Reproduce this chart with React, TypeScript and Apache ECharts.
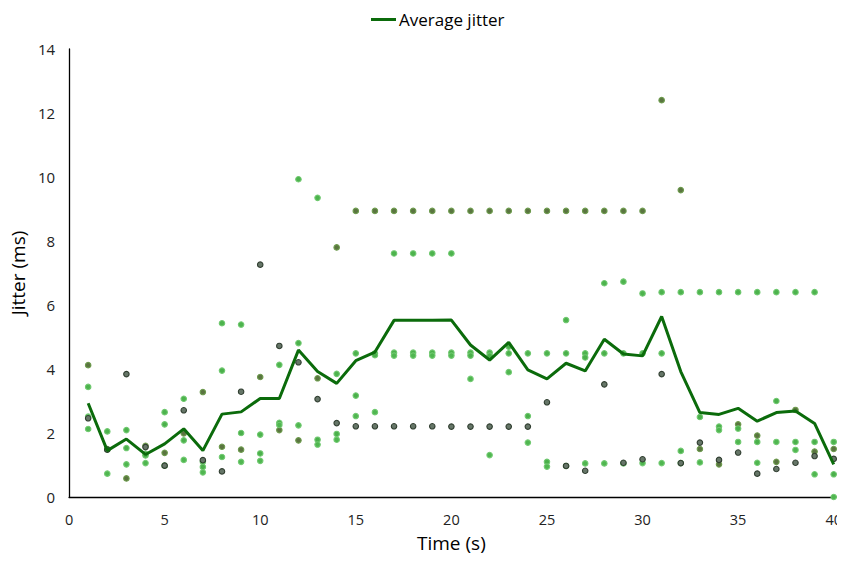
import React, { useEffect, useRef } from "react";
import * as echarts from "echarts";

// Time steps (s)
const times: number[] = Array.from({ length: 40 }, (_, i) => i + 1);

// Average jitter across all flows (ms)
const averageJitter: number[] = [
  2.93, 1.45, 1.81, 1.33, 1.66, 2.13, 1.45, 2.59, 2.66, 3.08,
  3.08, 4.59, 3.92, 3.55, 4.26, 4.53, 5.52, 5.52, 5.52, 5.53,
  4.75, 4.28, 4.83, 3.97, 3.69, 4.18, 3.94, 4.93, 4.47, 4.41,
  5.64, 3.92, 2.64, 2.58, 2.77, 2.37, 2.64, 2.69, 2.30, 1.02,
];

// Per-flow jitter (ms), one value per time step
const flowOlive: number[] = [
  4.12, 1.5, 0.58, 1.6, 1.38, 1.99, 3.28, 1.57, 1.48, 3.75,
  2.09, 1.77, 3.71, 7.8, 8.94, 8.94, 8.94, 8.94, 8.94, 8.94,
  8.94, 8.94, 8.94, 8.94, 8.94, 8.94, 8.94, 8.94, 8.94, 8.94,
  12.4, 9.59, 1.5, 1.02, 2.27, 1.92, 1.1, 2.72, 1.42, 1.5,
];

const flowDark: number[] = [
  2.46, 1.48, 3.84, 1.56, 0.98, 2.71, 1.15, 0.8, 3.29, 7.26,
  4.72, 4.21, 3.06, 2.31, 2.21, 2.21, 2.21, 2.21, 2.21, 2.2,
  2.2, 2.2, 2.2, 2.2, 2.96, 0.97, 0.82, 3.52, 1.07, 1.18,
  3.84, 1.06, 1.7, 1.16, 1.39, 0.73, 0.875, 1.07, 1.28, 1.19,
];

const flowLightA: number[] = [
  3.44, 2.05, 2.09, 1.35, 2.65, 3.07, 1.1, 5.43, 5.39, 1.95,
  4.13, 9.93, 9.35, 3.85, 4.49, 4.49, 7.61, 7.61, 7.61, 7.61,
  4.51, 4.51, 4.7, 4.49, 4.49, 5.53, 4.49, 6.68, 6.73, 6.36,
  6.4, 6.4, 6.4, 6.4, 6.4, 6.4, 6.4, 6.4, 6.4, 1.72,
];

const flowLightB: number[] = [
  2.51, 1.49, 1.53, 1.3, 2.27, 1.77, 0.94, 3.95, 2.0, 1.36,
  2.32, 4.81, 1.79, 1.97, 3.17, 4.43, 4.51, 4.51, 4.51, 4.51,
  4.42, 4.42, 4.49, 2.53, 1.1, 4.49, 4.36, 4.49, 4.49, 4.49,
  4.49, 1.44, 2.5, 2.2, 2.14, 1.72, 3.0, 1.72, 1.72, 0.71,
];

const flowLightC: number[] = [
  2.125, 0.73, 1.02, 1.06, 0.98, 1.16, 0.77, 1.25, 1.1, 1.13,
  2.25, 2.24, 1.64, 1.79, 2.53, 2.65, 4.42, 4.42, 4.42, 4.42,
  3.69, 1.31, 3.9, 1.7, 0.95, 0.97, 1.05, 1.05, 1.05, 1.06,
  1.06, 1.06, 1.08, 2.09, 1.72, 1.07, 1.72, 1.47, 0.71, 0.0,
];

const FONT = "'Open Sans', 'Noto Sans', sans-serif";

const GRID = { left: 68, top: 49, right: 8, bottom: 64 };
const W = 845;
const H = 561;

const pairs = (vals: number[]) => times.map((t, i) => [t, vals[i]]);

const scatter = (name: string, vals: number[], fill: string, border: string) => ({
  name,
  type: "scatter",
  data: pairs(vals),
  symbol: "circle",
  symbolSize: 5.5,
  itemStyle: { color: fill, borderColor: border, borderWidth: 1.1, opacity: 1 },
  z: 2,
});

export default function App() {
  const ref = useRef<HTMLDivElement>(null);

  useEffect(() => {
    if (!ref.current) return;
    const chart = echarts.init(ref.current, undefined, { renderer: "svg" });
    const axisY = H - GRID.bottom;
    chart.setOption({
      animation: false,
      backgroundColor: "#ffffff",
      textStyle: { fontFamily: FONT },
      legend: {
        data: ["Average jitter"],
        top: 6,
        left: 366,
        icon: "rect",
        itemWidth: 25,
        itemHeight: 3,
        itemGap: 4,
        textStyle: { fontFamily: FONT, fontSize: 17, color: "#000", padding: [0, 0, 0, -2] },
      },
      grid: { ...GRID, containLabel: false },
      // the plot frame's bottom edge runs on past the last tick to the border
      graphic: [
        {
          type: "line",
          shape: { x1: W - GRID.right - 1, y1: axisY, x2: W, y2: axisY },
          style: { stroke: "#000", lineWidth: 1.3 },
          silent: true,
        },
      ],
      xAxis: {
        type: "value",
        min: 0,
        max: 40,
        interval: 5,
        name: "Time (s)",
        nameLocation: "middle",
        nameGap: 36,
        nameTextStyle: { fontFamily: FONT, fontSize: 19, color: "#000" },
        axisLine: { show: true, lineStyle: { color: "#000", width: 1.3 } },
        axisTick: { show: false },
        splitLine: { show: false },
        axisLabel: { fontFamily: FONT, fontSize: 14.5, color: "#222", margin: 15 },
      },
      yAxis: {
        type: "value",
        min: 0,
        max: 14,
        interval: 2,
        name: "Jitter (ms)",
        nameLocation: "middle",
        nameGap: 40,
        nameTextStyle: { fontFamily: FONT, fontSize: 19, color: "#000" },
        axisLine: { show: true, lineStyle: { color: "#000", width: 1.3 } },
        axisTick: { show: false },
        splitLine: { show: false },
        axisLabel: { fontFamily: FONT, fontSize: 15, color: "#222", margin: 14 },
      },
      series: [
        scatter("Flow 1", flowOlive, "#5a7540", "#6c9a4c"),
        scatter("Flow 2", flowLightA, "#4db34d", "#6fc86f"),
        scatter("Flow 3", flowLightB, "#4bb04b", "#6fc86f"),
        scatter("Flow 4", flowLightC, "#50b650", "#72ca72"),
        scatter("Flow 5", flowDark, "#667668", "#2f3d2f"),
        {
          name: "Average jitter",
          type: "line",
          data: pairs(averageJitter),
          symbol: "none",
          lineStyle: { color: "#0b6b0b", width: 3 },
          itemStyle: { color: "#0b6b0b" },
          z: 5,
        },
      ],
    });
    return () => chart.dispose();
  }, []);

  return <div ref={ref} style={{ width: W, height: H, margin: -8 }} />;
}
